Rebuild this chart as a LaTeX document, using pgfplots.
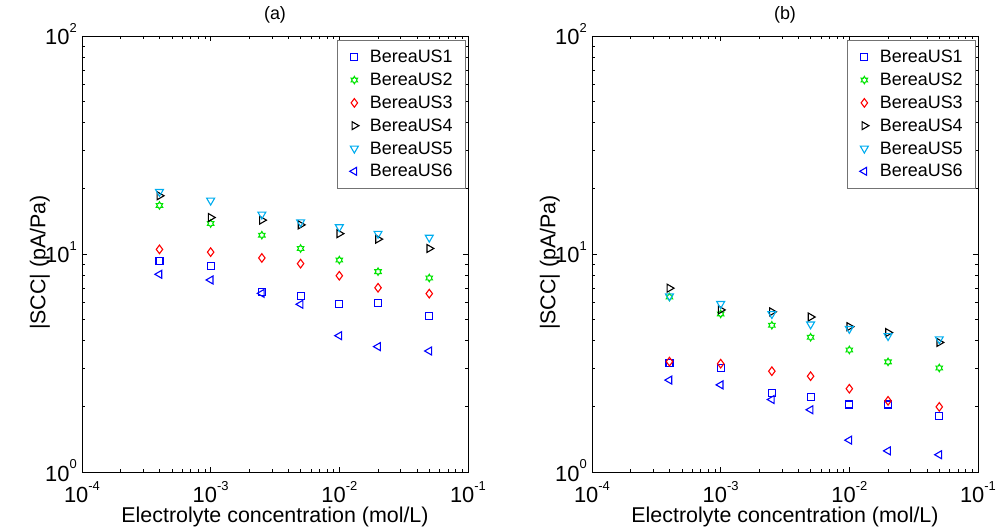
\documentclass[border=0pt]{standalone}
\usepackage{fontspec}
\setmainfont{Liberation Sans}
\usepackage{pgfplots}
\usepackage{pgfplotstable}
\pgfplotsset{compat=1.18}

% matlab 'h' marker
\newdimen\hexr
\pgfdeclareplotmark{hexagram}{%
  \hexr=0.577\pgfplotmarksize
  \pgfpathmoveto{\pgfqpointpolar{90}{\pgfplotmarksize}}%
  \pgfpathlineto{\pgfqpointpolar{120}{\hexr}}%
  \pgfpathlineto{\pgfqpointpolar{150}{\pgfplotmarksize}}%
  \pgfpathlineto{\pgfqpointpolar{180}{\hexr}}%
  \pgfpathlineto{\pgfqpointpolar{210}{\pgfplotmarksize}}%
  \pgfpathlineto{\pgfqpointpolar{240}{\hexr}}%
  \pgfpathlineto{\pgfqpointpolar{270}{\pgfplotmarksize}}%
  \pgfpathlineto{\pgfqpointpolar{300}{\hexr}}%
  \pgfpathlineto{\pgfqpointpolar{330}{\pgfplotmarksize}}%
  \pgfpathlineto{\pgfqpointpolar{0}{\hexr}}%
  \pgfpathlineto{\pgfqpointpolar{30}{\pgfplotmarksize}}%
  \pgfpathlineto{\pgfqpointpolar{60}{\hexr}}%
  \pgfpathclose\pgfusepathqstroke}

\newcommand{\tenp}[1]{10\raisebox{0.55em}{\fontsize{13}{13}\selectfont #1}}

% columns: concentration (mol/L), |SCC| (pA/Pa) for US1..US6
\pgfplotstableread{
x      us1   us2   us3   us4   us5   us6
4e-4   9.30  16.7  10.5  18.5  19.3  8.07
1e-3   8.81  13.8  10.2  14.7  17.6  7.60
2.5e-3 6.67  12.2  9.59  14.3  15.2  6.60
5e-3   6.44  10.6  9.03  13.6  14.0  5.88
1e-2   5.91  9.38  7.95  12.4  13.3  4.22
2e-2   5.94  8.30  7.00  11.7  12.4  3.76
5e-2   5.21  7.76  6.58  10.6  11.9  3.59
}\dataA
\pgfplotstableread{
x      us1   us2   us3   us4   us5   us6
4e-4   3.17  6.35  3.21  6.97  6.41  2.64
1e-3   2.99  5.31  3.14  5.54  5.91  2.51
2.5e-3 2.30  4.71  2.90  5.43  5.31  2.15
5e-3   2.20  4.15  2.75  5.14  4.76  1.93
1e-2   2.04  3.63  2.41  4.64  4.54  1.40
2e-2   2.04  3.20  2.12  4.36  4.21  1.25
5e-2   1.81  3.00  1.99  3.93  4.07  1.20
}\dataB

\begin{document}
\begin{tikzpicture}
\path[use as bounding box] (-82bp,-55bp) rectangle (915bp,472bp);
\begin{axis}[
    at={(0bp,0bp)}, anchor=south west, title={(a)},
    scale only axis, width=386bp, height=436bp,
    xmode=log, ymode=log,
    xmin=1e-4, xmax=1e-1, ymin=1, ymax=100,
    axis line style={line width=0.6bp},
    tick style={black, line width=0.5bp},
    major tick length=5bp, minor tick length=3bp,
    tick align=inside,
    xtick={1e-4,1e-3,1e-2,1e-1},
    xticklabels={\tenp{-4},\tenp{-3},\tenp{-2},\tenp{-1}},
    ytick={1,10,100},
    yticklabels={\tenp{0},\tenp{1},\tenp{2}},
    minor xtick={2e-4,3e-4,4e-4,5e-4,6e-4,7e-4,8e-4,9e-4,2e-3,3e-3,4e-3,5e-3,6e-3,7e-3,8e-3,9e-3,2e-2,3e-2,4e-2,5e-2,6e-2,7e-2,8e-2,9e-2},
    minor ytick={2,3,4,5,6,7,8,9,20,30,40,50,60,70,80,90},
    tick label style={font=\fontsize{22}{22}\selectfont},
    xticklabel style={anchor=base, yshift=-30.5bp},
    yticklabel style={anchor=base east, inner xsep=0pt, xshift=-5bp, yshift=-9bp},
    xlabel={Electrolyte concentration (mol/L)},
    ylabel={|SCC| (pA/Pa)},
    label style={font=\fontsize{21.5}{21.5}\selectfont},
    xlabel style={at={(axis description cs:0.5,-0.1147)}, anchor=base},
    ylabel style={at={(axis description cs:-0.095,0.4805)}, anchor=base},
    title style={at={(axis description cs:0.5,1.024)}, anchor=base,
      font=\fontsize{18}{18}\selectfont},
    legend style={at={(rel axis cs:1,1)}, anchor=north east,
      xshift=-2bp, yshift=-4bp, draw=black!55, line width=0.6bp,
      font=\fontsize{18}{18}\selectfont, row sep=4.8bp,
      inner xsep=12bp, inner ysep=8bp, nodes={inner xsep=1bp},
      /tikz/every odd column/.append style={column sep=10bp}},
    legend cell align=left,
  ]
\addplot[only marks, blue, line width=1.1bp, mark=square, mark size=3.5bp] table[x=x, y=us1] {\dataA};
\addplot[only marks, green!90!black, line width=1.1bp, mark=hexagram, mark size=3.7bp] table[x=x, y=us2] {\dataA};
\addplot[only marks, red, line width=1.1bp, mark=diamond, mark size=4.3bp] table[x=x, y=us3] {\dataA};
\addplot[only marks, black, line width=1.1bp, mark=triangle, mark size=4.6bp, mark options={rotate=-90}] table[x=x, y=us4] {\dataA};
\addplot[only marks, cyan, line width=1.1bp, mark=triangle, mark size=4.6bp, mark options={rotate=180}] table[x=x, y=us5] {\dataA};
\addplot[only marks, blue, line width=1.1bp, mark=triangle, mark size=4.6bp, mark options={rotate=90}] table[x=x, y=us6] {\dataA};
\legend{BereaUS1,BereaUS2,BereaUS3,BereaUS4,BereaUS5,BereaUS6}
\end{axis}
\begin{axis}[
    at={(510bp,0bp)}, anchor=south west, title={(b)},
    scale only axis, width=386bp, height=436bp,
    xmode=log, ymode=log,
    xmin=1e-4, xmax=1e-1, ymin=1, ymax=100,
    axis line style={line width=0.6bp},
    tick style={black, line width=0.5bp},
    major tick length=5bp, minor tick length=3bp,
    tick align=inside,
    xtick={1e-4,1e-3,1e-2,1e-1},
    xticklabels={\tenp{-4},\tenp{-3},\tenp{-2},\tenp{-1}},
    ytick={1,10,100},
    yticklabels={\tenp{0},\tenp{1},\tenp{2}},
    minor xtick={2e-4,3e-4,4e-4,5e-4,6e-4,7e-4,8e-4,9e-4,2e-3,3e-3,4e-3,5e-3,6e-3,7e-3,8e-3,9e-3,2e-2,3e-2,4e-2,5e-2,6e-2,7e-2,8e-2,9e-2},
    minor ytick={2,3,4,5,6,7,8,9,20,30,40,50,60,70,80,90},
    tick label style={font=\fontsize{22}{22}\selectfont},
    xticklabel style={anchor=base, yshift=-30.5bp},
    yticklabel style={anchor=base east, inner xsep=0pt, xshift=-5bp, yshift=-9bp},
    xlabel={Electrolyte concentration (mol/L)},
    ylabel={|SCC| (pA/Pa)},
    label style={font=\fontsize{21.5}{21.5}\selectfont},
    xlabel style={at={(axis description cs:0.5,-0.1147)}, anchor=base},
    ylabel style={at={(axis description cs:-0.095,0.4805)}, anchor=base},
    title style={at={(axis description cs:0.5,1.024)}, anchor=base,
      font=\fontsize{18}{18}\selectfont},
    legend style={at={(rel axis cs:1,1)}, anchor=north east,
      xshift=-2bp, yshift=-4bp, draw=black!55, line width=0.6bp,
      font=\fontsize{18}{18}\selectfont, row sep=4.8bp,
      inner xsep=12bp, inner ysep=8bp, nodes={inner xsep=1bp},
      /tikz/every odd column/.append style={column sep=10bp}},
    legend cell align=left,
  ]
\addplot[only marks, blue, line width=1.1bp, mark=square, mark size=3.5bp] table[x=x, y=us1] {\dataB};
\addplot[only marks, green!90!black, line width=1.1bp, mark=hexagram, mark size=3.7bp] table[x=x, y=us2] {\dataB};
\addplot[only marks, red, line width=1.1bp, mark=diamond, mark size=4.3bp] table[x=x, y=us3] {\dataB};
\addplot[only marks, black, line width=1.1bp, mark=triangle, mark size=4.6bp, mark options={rotate=-90}] table[x=x, y=us4] {\dataB};
\addplot[only marks, cyan, line width=1.1bp, mark=triangle, mark size=4.6bp, mark options={rotate=180}] table[x=x, y=us5] {\dataB};
\addplot[only marks, blue, line width=1.1bp, mark=triangle, mark size=4.6bp, mark options={rotate=90}] table[x=x, y=us6] {\dataB};
\legend{BereaUS1,BereaUS2,BereaUS3,BereaUS4,BereaUS5,BereaUS6}
\end{axis}
\end{tikzpicture}
\end{document}
